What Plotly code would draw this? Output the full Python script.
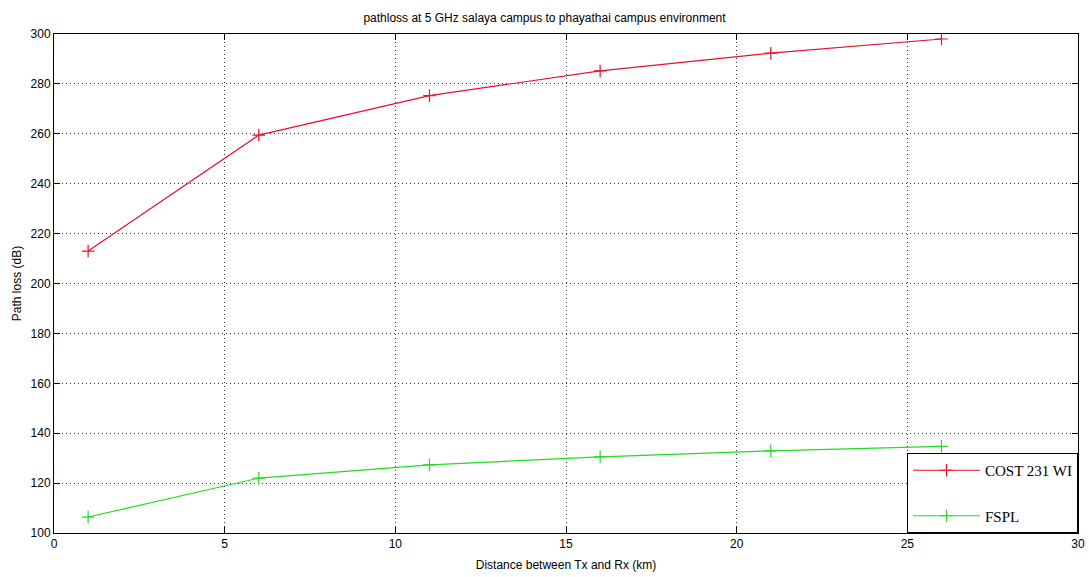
import plotly.graph_objects as go

# Distance between transmitter and receiver (km)
distance_km = [1, 6, 11, 16, 21, 26]

# Path loss predictions (dB)
cost231_wi = [213.0, 259.5, 275.3, 285.2, 292.3, 298.0]
fspl = [106.4, 122.0, 127.3, 130.5, 132.9, 134.7]

x_ticks = [0, 5, 10, 15, 20, 25, 30]
y_ticks = [100, 120, 140, 160, 180, 200, 220, 240, 260, 280, 300]

RED = "#e8102a"
GREEN = "#22dd22"

fig = go.Figure()
fig.add_trace(go.Scatter(
    x=distance_km, y=cost231_wi, name="COST 231 WI", mode="lines+markers",
    legendgroup="a",
    line=dict(color=RED, width=1.2),
    marker=dict(symbol="cross-thin", size=9, line=dict(color=RED, width=1.2)),
))
fig.add_trace(go.Scatter(
    x=distance_km, y=fspl, name="FSPL", mode="lines+markers",
    legendgroup="b",
    line=dict(color=GREEN, width=1.2),
    marker=dict(symbol="cross-thin", size=9, line=dict(color=GREEN, width=1.2)),
))

axis_common = dict(
    showline=True, linecolor="black", linewidth=1, mirror="ticks",
    ticks="inside", ticklen=6, tickcolor="black",
    showgrid=True, gridcolor="#333333", gridwidth=1, griddash="1px,3px",
    zeroline=False, automargin=False,
    tickfont=dict(family="Liberation Sans, Arial", size=12, color="black"),
)

fig.update_xaxes(range=[0, 30], tickvals=x_ticks, **axis_common,
                 title=dict(text="Distance between Tx and Rx (km)",
                            font=dict(family="Liberation Sans, Arial", size=12, color="black"),
                            standoff=10))
fig.update_yaxes(range=[100, 300], tickvals=y_ticks, **axis_common,
                 title=dict(text="Path loss (dB)",
                            font=dict(family="Liberation Sans, Arial", size=12, color="black"),
                            standoff=6))

fig.update_layout(
    width=1089, height=577,
    margin=dict(l=54, r=11, t=34, b=44),
    paper_bgcolor="white", plot_bgcolor="white",
    title=dict(text="pathloss at 5 GHz salaya campus to phayathai campus environment",
               x=0.5, xanchor="center", y=0.97, yanchor="middle",
               font=dict(family="Liberation Sans, Arial", size=12, color="black")),
    legend=dict(
        x=1, xanchor="right", y=0, yanchor="bottom",
        bgcolor="white", bordercolor="black", borderwidth=1,
        font=dict(family="Liberation Serif, Times New Roman", size=15, color="black"),
        tracegroupgap=23, itemwidth=67,
    ),
)

fig.write_html("out.html")
